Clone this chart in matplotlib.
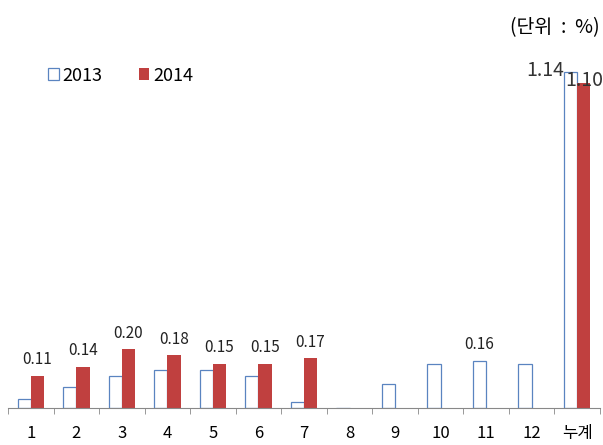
import numpy as np
import matplotlib.pyplot as plt

plt.rcParams['font.family'] = ['Noto Sans CJK KR', 'DejaVu Sans']

# 월별 값 (단위: %)
categories = ['1', '2', '3', '4', '5', '6', '7', '8', '9', '10', '11', '12', '누계']
values_2013 = [0.03, 0.07, 0.11, 0.13, 0.13, 0.11, 0.02, 0.0, 0.08, 0.15, 0.16, 0.15, 1.14]
values_2014 = [0.11, 0.14, 0.20, 0.18, 0.15, 0.15, 0.17, 0.0, 0.0, 0.0, 0.0, 0.0, 1.10]
labels_2014 = ['0.11', '0.14', '0.20', '0.18', '0.15', '0.15', '0.17']

fig = plt.figure(figsize=(6.03, 4.45), dpi=100)
ax = fig.add_axes([0.0133, 0.083, 0.9817, 0.796])

x = np.arange(len(categories))
w = 0.29
blue = '#5a84c0'
red = '#c0403f'

ax.bar(x - w / 2, values_2013, w, facecolor='white', edgecolor=blue, linewidth=0.9, label='2013')
ax.bar(x + w / 2, values_2014, w, color=red, label='2014')

# 월별 라벨
for i, t in enumerate(labels_2014):
    ax.text(x[i] + w / 2, values_2014[i] + 0.025, t, ha='center', va='bottom', fontsize=11, color='#222222')
ax.text(x[10] - w / 2, values_2013[10] + 0.025, '0.16', ha='center', va='bottom', fontsize=11, color='#222222')

# 누계 라벨
n = len(categories) - 1
ax.text(x[n] - w, values_2013[n] + 0.005, '1.14', ha='right', va='center', fontsize=14, color='#333333')
ax.text(x[n] + w / 2, values_2014[n] + 0.01, '1.10', ha='center', va='center', fontsize=14, color='#333333')

ax.set_xlim(-0.5, len(categories) - 0.5)
ax.set_ylim(0, 1.2)
ax.set_yticks([])
ax.set_xticks(x)
ax.set_xticklabels(categories, fontsize=12)
ax.set_xticks(np.arange(-0.5, len(categories), 1), minor=True)
ax.tick_params(axis='x', which='major', length=0, pad=12)
ax.tick_params(axis='x', which='minor', length=4, color='#888888')

for s in ['top', 'right', 'left']:
    ax.spines[s].set_visible(False)
ax.spines['bottom'].set_color('#888888')

ax.legend(loc='upper left', bbox_to_anchor=(0.04, 1.01), ncol=2, frameon=False, fontsize=13,
          handlelength=0.6, handleheight=0.6, handletextpad=0.2, columnspacing=2.0)

fig.text(0.995, 0.937, '(단위  :  %)', ha='right', va='center', fontsize=14)

fig.savefig('out.png', dpi=100)
